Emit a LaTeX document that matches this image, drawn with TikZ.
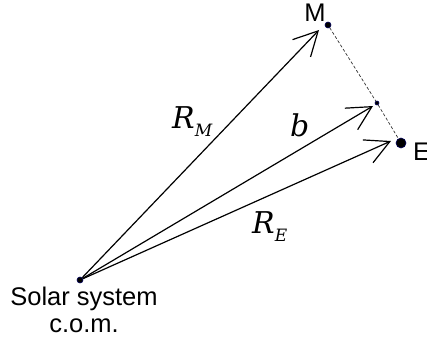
\documentclass[tikz,border=0pt]{standalone}
\usepackage{fontspec}
\setmainfont{Liberation Sans}
\newfontfamily\dvserif{DejaVu Serif}
\usetikzlibrary{arrows.meta}
\newcommand\vname[2]{{\dvserif\itshape #1}\raisebox{-8pt}{\dvserif\itshape\fontsize{17}{17}\selectfont #2}}

\begin{document}
\begin{tikzpicture}[x=1pt, y=-1pt,
  dot/.style={circle, fill=black, draw=blue!35!black, line width=0.6pt,
              inner sep=0pt, minimum size=#1},
  vec/.style={-{Straight Barb[length=24pt, width=25pt]}, line width=1.2pt},
  link/.style={dashed, gray!40!black, line width=0.7pt, dash pattern=on 3pt off 2pt},
  lbl/.style={font=\fontsize{25.5}{27}\selectfont, inner sep=0pt, align=center},
  sym/.style={font=\fontsize{30}{30}\selectfont, inner sep=0pt, anchor=base west},
]
  \useasboundingbox (0,0) rectangle (427,345);

  \node[dot=6pt]  (O) at (80,280) {};
  \node[dot=6pt]  (M) at (328,25) {};
  \node[dot=4pt]  (C) at (377,103) {};
  \node[dot=10pt] (E) at (401,143) {};

  \coordinate (tM) at (319,30);
  \coordinate (tC) at (373,106);
  \coordinate (tE) at (391,141);

  \node[lbl, anchor=north] (sun) at (84,287) {Solar system\\c.o.m.};
  \node[lbl] (mlbl) at (315,13) {M};
  \node[lbl, anchor=west] (elbl) at (413,152) {E};

  \node[sym] (rm) at (172,128) {\vname{R}{M}};
  \node[sym] (bb) at (290,136) {{\dvserif\itshape b}};
  \node[sym] (re) at (252,233) {\vname{R}{E}};

  \draw[link] (M) -- (C);
  \draw[link] (C) -- (E);

  \draw[vec] (O) -- (tM);
  \draw[vec] (O) -- (tC);
  \draw[vec] (O) -- (tE);
\end{tikzpicture}
\end{document}
